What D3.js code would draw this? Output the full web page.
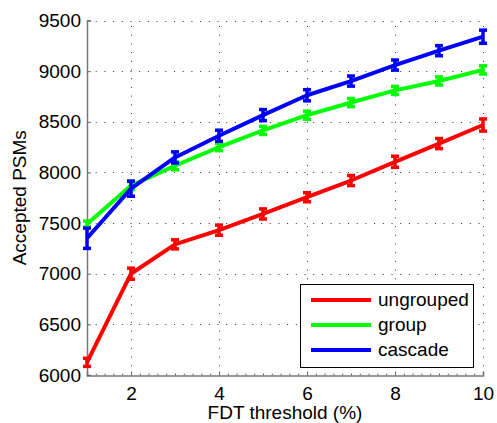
<!DOCTYPE html>
<html>
<head>
<meta charset="utf-8">
<title>Accepted PSMs</title>
<script src="https://cdn.jsdelivr.net/npm/d3@7"></script>
<style>
  body { margin: 0; background: #fff; }
  text { font-family: "Liberation Sans", Arial, sans-serif; }
</style>
</head>
<body>
<div id="container"></div>
<script>
  // Data.
  const fdt = [1, 2, 3, 4, 5, 6, 7, 8, 9, 10];
  const ungrouped = [6125, 7000, 7290, 7430, 7590, 7755, 7920, 8105, 8285, 8468];
  const ungroupedErr = [40, 55, 45, 50, 50, 45, 50, 55, 50, 60];
  const group = [7490, 7870, 8066, 8250, 8415, 8565, 8690, 8810, 8903, 9012];
  const groupErr = [30, 40, 40, 35, 40, 40, 40, 40, 40, 40];
  const cascade = [7350, 7840, 8148, 8362, 8566, 8762, 8902, 9060, 9202, 9340];
  const cascadeErr = [100, 75, 55, 55, 55, 55, 50, 50, 50, 65];
  const seriesNames = ["ungrouped", "group", "cascade"];
  const seriesColors = ["#ff0000", "#00ff00", "#0000ff"];
  const xTicks = [2, 4, 6, 8, 10];
  const yTicks = [6000, 6500, 7000, 7500, 8000, 8500, 9000, 9500];

  const width = 497;
  const height = 423;
  const marginTop = 20.5;
  const marginRight = 14;
  const marginBottom = 48;
  const marginLeft = 87;

  const x = d3.scaleLinear()
      .domain([1, 10])
      .range([marginLeft, width - marginRight]);

  const y = d3.scaleLinear()
      .domain([6000, 9500])
      .range([height - marginBottom, marginTop]);

  const svg = d3.create("svg")
      .attr("width", width)
      .attr("height", height);

  // Dotted grid.
  const grid = svg.append("g")
      .attr("stroke", "#333")
      .attr("stroke-width", 1)
      .attr("stroke-dasharray", "1,7.7");
  grid.selectAll("line.gx")
    .data(xTicks)
    .join("line")
      .attr("x1", d => Math.round(x(d)) + 0.5)
      .attr("x2", d => Math.round(x(d)) + 0.5)
      .attr("y1", y(6000))
      .attr("y2", y(9500));
  grid.selectAll("line.gy")
    .data(yTicks.slice(1))
    .join("line")
      .attr("class", "gy")
      .attr("x1", x(1))
      .attr("x2", x(10))
      .attr("y1", d => Math.round(y(d)) + 0.5)
      .attr("y2", d => Math.round(y(d)) + 0.5);

  // Axes (MATLAB style, box off, ticks inside).
  const xAxis = svg.append("g")
      .attr("transform", `translate(0,${Math.round(y(6000)) + 0.5})`);
  xAxis.call(d3.axisBottom(x).tickValues(d3.range(1, 10.001, 0.2)).tickSize(-2).tickFormat(""));
  xAxis.call(g => g.select(".domain").remove());
  xAxis.selectAll("line").attr("stroke", "#666");
  const xAxis2 = svg.append("g")
      .attr("transform", `translate(0,${Math.round(y(6000)) + 0.5})`)
      .call(d3.axisBottom(x).tickValues(xTicks).tickSize(-4).tickPadding(11).tickFormat(d3.format("d")));
  xAxis2.select(".domain").attr("stroke", "#777").attr("stroke-width", 1.5);
  xAxis2.selectAll(".tick line").attr("stroke", "#666");
  xAxis2.selectAll("text").attr("font-size", 19).attr("fill", "#000");

  const yAxis = svg.append("g")
      .attr("transform", `translate(${marginLeft},0)`)
      .call(d3.axisLeft(y).tickValues(yTicks).tickSize(-4).tickPadding(6).tickFormat(d3.format("d")));
  yAxis.select(".domain").attr("stroke", "#777").attr("stroke-width", 1.5);
  yAxis.selectAll(".tick line").attr("stroke", "#666");
  yAxis.selectAll("text").attr("font-size", 19).attr("fill", "#000");

  // Axis labels.
  svg.append("text")
      .attr("x", (x(1) + x(10)) / 2)
      .attr("y", 419)
      .attr("text-anchor", "middle")
      .attr("font-size", 19)
      .text("FDT threshold (%)");
  svg.append("text")
      .attr("transform", `translate(26,${(y(6000) + y(9500)) / 2}) rotate(-90)`)
      .attr("text-anchor", "middle")
      .attr("font-size", 19)
      .text("Accepted PSMs");

  // Series with error bars.
  const series = [
    { values: ungrouped, err: ungroupedErr },
    { values: group, err: groupErr },
    { values: cascade, err: cascadeErr }
  ];
  const line = d3.line()
      .x(d => x(d[0]))
      .y(d => y(d[1]));

  series.forEach((s, i) => {
    const pts = fdt.map((f, j) => [f, s.values[j], s.err[j]]);
    const g = svg.append("g").attr("stroke", seriesColors[i]).attr("fill", "none");
    g.append("path")
        .attr("d", line(pts))
        .attr("stroke-width", 4)
        .attr("stroke-linejoin", "round");
    const eb = g.selectAll("g.eb").data(pts).join("g");
    eb.append("line")
        .attr("x1", d => x(d[0])).attr("x2", d => x(d[0]))
        .attr("y1", d => y(d[1] - d[2])).attr("y2", d => y(d[1] + d[2]))
        .attr("stroke-width", 3.5);
    eb.append("line")
        .attr("x1", d => x(d[0]) - 4).attr("x2", d => x(d[0]) + 4)
        .attr("y1", d => y(d[1] - d[2])).attr("y2", d => y(d[1] - d[2]))
        .attr("stroke-width", 3.5);
    eb.append("line")
        .attr("x1", d => x(d[0]) - 4).attr("x2", d => x(d[0]) + 4)
        .attr("y1", d => y(d[1] + d[2])).attr("y2", d => y(d[1] + d[2]))
        .attr("stroke-width", 3.5);
  });

  // Legend.
  const legend = svg.append("g");
  legend.append("rect")
      .attr("x", 300.5).attr("y", 284.5)
      .attr("width", 173).attr("height", 83)
      .attr("fill", "#fff").attr("stroke", "#000").attr("stroke-width", 1);
  seriesNames.forEach((name, i) => {
    const ly = 300 + i * 25;
    legend.append("line")
        .attr("x1", 311).attr("x2", 371)
        .attr("y1", ly).attr("y2", ly)
        .attr("stroke", seriesColors[i]).attr("stroke-width", 4);
    legend.append("text")
        .attr("x", 378).attr("y", ly + 6)
        .attr("font-size", 19)
        .text(name);
  });

  document.getElementById("container").append(svg.node());
</script>
</body>
</html>
